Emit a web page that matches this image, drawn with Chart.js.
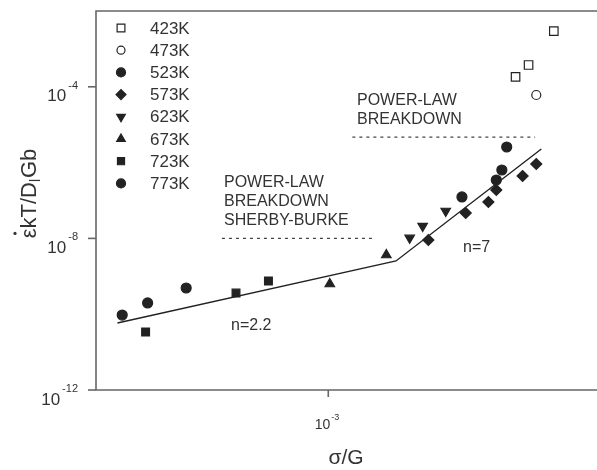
<!DOCTYPE html>
<html>
<head>
<meta charset="utf-8">
<script src="https://cdn.jsdelivr.net/npm/chart.js@4.4.1/dist/chart.umd.min.js"></script>
<style>
  html, body { margin: 0; padding: 0; background: #fff; }
</style>
</head>
<body>
<canvas id="chart" width="597" height="470"></canvas>
<script>
// Data (sigma/G, strain-rate term)
const temps = ['423K', '473K', '523K', '573K', '623K', '673K', '723K', '773K'];

const s423 = [3.39e-3, 3.69e-3, 4.35e-3];
const r423 = [1.82e-4, 3.76e-4, 2.96e-3];

const s473 = [3.88e-3];
const r473 = [6.08e-5];

const s523 = [2.39e-3, 2.99e-3, 3.10e-3, 3.20e-3];
const r523 = [1.24e-7, 3.47e-7, 6.38e-7, 2.58e-6];

const s573 = [1.92e-3, 2.45e-3, 2.84e-3, 2.99e-3, 3.55e-3, 3.88e-3];
const r573 = [9.08e-9, 4.68e-8, 9.12e-8, 1.89e-7, 4.43e-7, 9.18e-7];

const s623 = [1.70e-3, 1.85e-3, 2.15e-3];
const r623 = [1.03e-8, 2.12e-8, 5.28e-8];

const s673 = [1.01e-3, 1.46e-3];
const r673 = [6.27e-10, 3.65e-9];

const s723 = [3.04e-4, 5.48e-4, 6.77e-4];
const r723 = [3.39e-11, 3.62e-10, 7.52e-10];

const s773 = [2.61e-4, 3.08e-4, 3.96e-4];
const r773 = [9.5e-11, 1.98e-10, 4.91e-10];

// fitted lines n=2.2 and n=7
const fitStress = [2.53e-4, 1.555e-3, 4.01e-3];
const fitRate = [5.86e-11, 2.54e-9, 2.29e-6];

// dashed breakdown levels
const sherbyStress = [5.0e-4, 1.34e-3];
const sherbyRate = [1e-8, 1e-8];
const plbStress = [1.17e-3, 3.85e-3];
const plbRate = [4.7e-6, 4.7e-6];

const xTickExps = [-3];
const yTickExps = [-12, -8, -4];

const pts = (xs, ys) => xs.map((x, i) => ({ x: x, y: ys[i] }));

const INK = '#222';
const FONT = '"Liberation Sans", Arial, Helvetica, sans-serif';

const markers = [
    { data: pts(s423, r423), style: 'rect', radius: 6, fill: '#fff', rot: 0 },
    { data: pts(s473, r473), style: 'circle', radius: 4.5, fill: '#fff', rot: 0 },
    { data: pts(s523, r523), style: 'circle', radius: 5, fill: INK, rot: 0 },
    { data: pts(s573, r573), style: 'rectRot', radius: 5.5, fill: INK, rot: 0 },
    { data: pts(s623, r623), style: 'triangle', radius: 5.5, fill: INK, rot: 180 },
    { data: pts(s673, r673), style: 'triangle', radius: 5.5, fill: INK, rot: 0 },
    { data: pts(s723, r723), style: 'rect', radius: 5.5, fill: INK, rot: 0 },
    { data: pts(s773, r773), style: 'circle', radius: 5, fill: INK, rot: 0 }
];

const datasets = markers.map((m, i) => ({
    label: temps[i],
    data: m.data,
    showLine: false,
    pointStyle: m.style,
    pointRadius: m.radius,
    pointRotation: m.rot,
    pointBackgroundColor: m.fill,
    pointBorderColor: INK,
    pointBorderWidth: 1.2
}));

datasets.push({
    label: 'fit',
    data: pts(fitStress, fitRate),
    showLine: true,
    borderColor: '#222',
    borderWidth: 1.4,
    pointRadius: 0
});
datasets.push({
    label: 'sherby',
    data: pts(sherbyStress, sherbyRate),
    showLine: true,
    borderColor: '#444',
    borderWidth: 1.2,
    borderDash: [3, 4],
    pointRadius: 0
});
datasets.push({
    label: 'plb',
    data: pts(plbStress, plbRate),
    showLine: true,
    borderColor: '#444',
    borderWidth: 1.2,
    borderDash: [3, 4],
    pointRadius: 0
});

// Frame, ticks, labels, legend and notes
const decorations = {
    id: 'decorations',
    afterDraw(chart) {
        const ctx = chart.ctx;
        const a = chart.chartArea;
        const xs = chart.scales.x;
        const ys = chart.scales.y;
        ctx.save();

        // frame: left, top, bottom
        ctx.strokeStyle = '#666';
        ctx.lineWidth = 1.6;
        ctx.beginPath();
        ctx.moveTo(597, a.top);
        ctx.lineTo(a.left, a.top);
        ctx.lineTo(a.left, a.bottom);
        ctx.lineTo(597, a.bottom);
        ctx.stroke();

        ctx.fillStyle = '#333';
        ctx.textBaseline = 'middle';

        // y ticks
        yTickExps.forEach(e => {
            const py = ys.getPixelForValue(Math.pow(10, e));
            ctx.beginPath();
            ctx.moveTo(a.left - 8, py);
            ctx.lineTo(a.left, py);
            ctx.stroke();
            const exp = '-' + Math.abs(e);
            ctx.font = '11px ' + FONT;
            const ew = ctx.measureText(exp).width;
            ctx.textAlign = 'left';
            ctx.fillText(exp, 78 - ew, py - 1);
            ctx.font = '17px ' + FONT;
            ctx.textAlign = 'right';
            ctx.fillText('10', 78 - ew - 2, py + 10);
        });

        // x ticks
        xTickExps.forEach(e => {
            const px = xs.getPixelForValue(Math.pow(10, e));
            ctx.beginPath();
            ctx.moveTo(px, a.bottom);
            ctx.lineTo(px, a.bottom + 7);
            ctx.stroke();
            ctx.font = '14px ' + FONT;
            ctx.textAlign = 'right';
            ctx.fillText('10', px + 2, a.bottom + 35);
            ctx.font = '9px ' + FONT;
            ctx.textAlign = 'left';
            ctx.fillText('-' + Math.abs(e), px + 3, a.bottom + 28);
        });

        // axis titles
        ctx.font = '21px ' + FONT;
        ctx.textAlign = 'center';
        ctx.fillText('\u03c3/G', 346, 458);

        ctx.save();
        ctx.translate(30, 194);
        ctx.rotate(-Math.PI / 2);
        ctx.textAlign = 'left';
        ctx.font = '22px ' + FONT;
        const p1 = '\u03b5kT/D';
        const w1 = ctx.measureText(p1).width;
        const we = ctx.measureText('\u03b5').width;
        ctx.font = '14px ' + FONT;
        const w2 = ctx.measureText('l').width;
        ctx.font = '22px ' + FONT;
        const w3 = ctx.measureText('Gb').width;
        let x0 = -(w1 + w2 + w3) / 2;
        ctx.fillText(p1, x0, 0);
        // dot over epsilon (strain rate)
        ctx.beginPath();
        ctx.arc(x0 + we / 2, -15, 1.6, 0, Math.PI * 2);
        ctx.fill();
        ctx.font = '14px ' + FONT;
        ctx.fillText('l', x0 + w1, 6);
        ctx.font = '22px ' + FONT;
        ctx.fillText('Gb', x0 + w1 + w2 + 1, 0);
        ctx.restore();

        // legend
        ctx.textAlign = 'left';
        ctx.font = '17px ' + FONT;
        markers.forEach((m, i) => {
            const ly = 28 + i * 22.2;
            ctx.fillStyle = m.fill;
            ctx.strokeStyle = INK;
            ctx.lineWidth = 1.2;
            Chart.helpers.drawPoint(ctx, {
                pointStyle: m.style,
                radius: m.radius - 0.5,
                rotation: m.rot,
                borderWidth: 1.2
            }, 121, ly);
            ctx.fillStyle = '#333';
            ctx.fillText(temps[i], 150, ly + 1);
        });

        // notes
        ctx.font = '16px ' + FONT;
        ctx.fillStyle = '#333';
        ['POWER-LAW', 'BREAKDOWN', 'SHERBY-BURKE'].forEach((t, i) => {
            ctx.fillText(t, 224, 183 + i * 19);
        });
        ['POWER-LAW', 'BREAKDOWN'].forEach((t, i) => {
            ctx.fillText(t, 357, 101 + i * 19);
        });
        ctx.fillText('n=2.2', 231, 326);
        ctx.fillText('n=7', 463, 248);

        ctx.restore();
    }
};

new Chart(document.getElementById('chart'), {
    type: 'scatter',
    data: { datasets: datasets },
    options: {
        responsive: false,
        animation: false,
        layout: { padding: { left: 96, top: 11, right: 0, bottom: 80 } },
        scales: {
            x: { type: 'logarithmic', display: false, min: 2.2e-4, max: 5.5e-3 },
            y: { type: 'logarithmic', display: false, min: 1e-12, max: 1e-2 }
        },
        plugins: {
            legend: { display: false },
            tooltip: { enabled: false }
        }
    },
    plugins: [decorations]
});
</script>
</body>
</html>
